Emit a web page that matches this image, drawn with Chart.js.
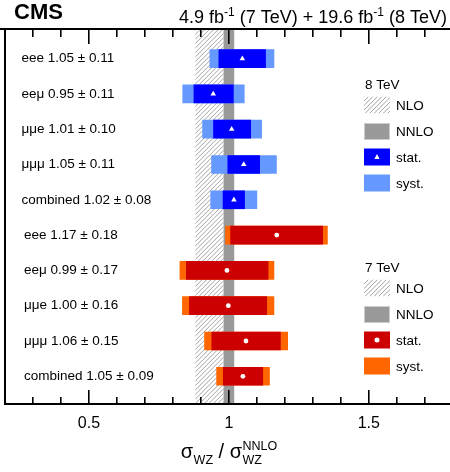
<!DOCTYPE html>
<html lang="en">
<head>
<meta charset="UTF-8">
<title>WZ cross section over NNLO</title>
<script src="https://cdn.jsdelivr.net/npm/chart.js"></script>
<style>
  html, body { margin: 0; padding: 0; background: #fff; overflow: hidden; }
  #chart { display: block; }
</style>
</head>
<body>
<canvas id="chart" width="450" height="472"></canvas>
<script>
// 8 TeV channels (top block)
const labels8 = ['eee 1.05 \u00b1 0.11', 'ee\u03bc 0.95 \u00b1 0.11', '\u03bc\u03bce 1.01 \u00b1 0.10', '\u03bc\u03bc\u03bc 1.05 \u00b1 0.11', 'combined 1.02 \u00b1 0.08'];
const central8 = [1.048, 0.944, 1.010, 1.053, 1.018];
const statLo8  = [0.964, 0.875, 0.945, 0.996, 0.979];
const statHi8  = [1.131, 1.016, 1.078, 1.110, 1.056];
const totLo8   = [0.932, 0.835, 0.906, 0.938, 0.935];
const totHi8   = [1.161, 1.055, 1.117, 1.170, 1.100];

// 7 TeV channels (bottom block)
const labels7 = ['eee 1.17 \u00b1 0.18', 'ee\u03bc 0.99 \u00b1 0.17', '\u03bc\u03bce 1.00 \u00b1 0.16', '\u03bc\u03bc\u03bc 1.06 \u00b1 0.15', 'combined 1.05 \u00b1 0.09'];
const central7 = [1.171, 0.993, 0.998, 1.061, 1.050];
const statLo7  = [1.006, 0.848, 0.859, 0.939, 0.980];
const statHi7  = [1.335, 1.140, 1.135, 1.184, 1.121];
const totLo7   = [0.988, 0.825, 0.834, 0.913, 0.956];
const totHi7   = [1.352, 1.161, 1.161, 1.210, 1.145];

// theory bands
const nloBand  = [0.88, 0.981];
const nnloBand = [0.981, 1.019];

const tickVals  = [0.3, 0.4, 0.5, 0.6, 0.7, 0.8, 0.9, 1.0, 1.1, 1.2, 1.3, 1.4, 1.5, 1.6, 1.7];
const majorVals = [0.5, 1.0, 1.5];

const FONT = "'Liberation Sans', Arial, Helvetica, sans-serif";
const C = { stat8: '#0000ff', syst8: '#6699ff', stat7: '#cc0000', syst7: '#ff6600', nnlo: '#999999' };

const rows8 = labels8.map((_, i) => i);
const rows7 = labels7.map((_, i) => i + labels8.length);

const isMajor = v => majorVals.some(m => Math.abs(m - v) < 1e-6);

function hatch(ctx, x0, y0, w, h) {
  ctx.save();
  ctx.beginPath();
  ctx.rect(x0, y0, w, h);
  ctx.clip();
  ctx.strokeStyle = '#8c8c8c';
  ctx.lineWidth = 0.8;
  ctx.beginPath();
  for (let t = -h; t < w + h; t += 4.5) {
    ctx.moveTo(x0 + t, y0 + h);
    ctx.lineTo(x0 + t + h, y0);
  }
  ctx.stroke();
  ctx.beginPath();
  ctx.restore();
}

function drawLegend(ctx, title, y, stat, syst, marker) {
  const sx = 364, sw = 26, sh = 17, tx = 396;
  ctx.save();
  ctx.fillStyle = '#000';
  ctx.font = '13.5px ' + FONT;
  ctx.textAlign = 'left';
  ctx.textBaseline = 'middle';
  ctx.fillText(title, 365, y);
  const rows = [y + 20, y + 46.5, y + 72, y + 98];
  hatch(ctx, sx, rows[0] - sh / 2, sw, sh);
  ctx.fillStyle = C.nnlo;
  ctx.fillRect(sx, rows[1] - sh / 2, sw, sh);
  ctx.fillStyle = '#cccccc';
  ctx.fillRect(sx, rows[1] - sh / 2, sw, 1);
  ctx.fillRect(sx, rows[1] + sh / 2 - 1, sw, 1);
  ctx.fillRect(sx, rows[1] - sh / 2, 1, sh);
  ctx.fillRect(sx + sw - 1, rows[1] - sh / 2, 1, sh);
  ctx.fillStyle = stat;
  ctx.fillRect(sx, rows[2] - sh / 2, sw, sh);
  ctx.fillStyle = '#fff';
  ctx.beginPath();
  if (marker === 'triangle') {
    ctx.moveTo(sx + sw / 2, rows[2] - 3);
    ctx.lineTo(sx + sw / 2 + 2.6, rows[2] + 2);
    ctx.lineTo(sx + sw / 2 - 2.6, rows[2] + 2);
    ctx.closePath();
  } else {
    ctx.arc(sx + sw / 2, rows[2], 2.5, 0, Math.PI * 2);
  }
  ctx.fill();
  ctx.beginPath();
  ctx.fillStyle = syst;
  ctx.fillRect(sx, rows[3] - sh / 2, sw, sh);
  ctx.fillStyle = '#000';
  ['NLO', 'NNLO', 'stat.', 'syst.'].forEach((t, i) => ctx.fillText(t, tx, rows[i] + 1));
  ctx.restore();
}

// theory bands behind the bars
const bands = {
  id: 'bands',
  beforeDatasetsDraw(chart) {
    const { ctx, chartArea: a, scales: { x } } = chart;
    ctx.save();
    const h0 = x.getPixelForValue(nloBand[0]), h1 = x.getPixelForValue(nloBand[1]);
    hatch(ctx, h0, a.top, h1 - h0, a.bottom - a.top);
    const n0 = x.getPixelForValue(nnloBand[0]), n1 = x.getPixelForValue(nnloBand[1]);
    ctx.fillStyle = C.nnlo;
    ctx.fillRect(n0, a.top, n1 - n0, a.bottom - a.top);
    ctx.restore();
  }
};

// texts, legend, frame and inward ticks on top
const decor = {
  id: 'decor',
  afterDraw(chart) {
    const { ctx, chartArea: a, scales: { x, y } } = chart;
    ctx.save();
    ctx.fillStyle = '#000';
    // row labels
    ctx.font = '13.5px ' + FONT;
    ctx.textAlign = 'left';
    ctx.textBaseline = 'middle';
    labels8.forEach((t, i) => ctx.fillText(t, 21.5, y.getPixelForValue(rows8[i])));
    labels7.forEach((t, i) => ctx.fillText(t, 24, y.getPixelForValue(rows7[i])));
    // legends
    drawLegend(ctx, '8 TeV', 85, C.stat8, C.syst8, 'triangle');
    drawLegend(ctx, '7 TeV', 268, C.stat7, C.syst7, 'circle');
    // header
    ctx.fillStyle = '#000';
    ctx.textBaseline = 'alphabetic';
    ctx.font = 'bold 22px ' + FONT;
    ctx.fillText('CMS', 14, 19);
    const parts = [
      ['4.9 fb', 18, 0], ['-1', 12, -7], [' (7 TeV) + 19.6 fb', 18, 0], ['-1', 12, -7], [' (8 TeV)', 18, 0]
    ];
    let w = 0;
    parts.forEach(p => { ctx.font = p[1] + 'px ' + FONT; w += ctx.measureText(p[0]).width; });
    let cx = 447 - w;
    parts.forEach(p => {
      ctx.font = p[1] + 'px ' + FONT;
      ctx.fillText(p[0], cx, 23 + p[2]);
      cx += ctx.measureText(p[0]).width;
    });
    // x title: sigma_WZ / sigma_WZ^NNLO
    const big = '20px ' + FONT, small = '12.5px ' + FONT;
    ctx.font = big; const wSig = ctx.measureText('\u03c3').width, wSl = ctx.measureText(' / ').width;
    ctx.font = small; const wWZ = ctx.measureText('WZ').width, wN = ctx.measureText('NNLO').width;
    const total = wSig * 2 + wWZ + wSl + Math.max(wWZ, wN) + 1;
    let tx = 229 - total / 2;
    const base = 458;
    ctx.font = big; ctx.fillText('\u03c3', tx, base); tx += wSig + 0.5;
    ctx.font = small; ctx.fillText('WZ', tx, base + 6); tx += wWZ;
    ctx.font = big; ctx.fillText(' / ', tx, base); tx += wSl;
    ctx.fillText('\u03c3', tx, base); tx += wSig + 0.5;
    ctx.font = small; ctx.fillText('WZ', tx, base + 6); ctx.fillText('NNLO', tx, base - 8);
    ctx.restore();

    ctx.save();
    ctx.fillStyle = '#000';
    // frame: top rule across the full width, left and bottom axis lines
    ctx.fillRect(0, a.top - 2, chart.width, 2);
    ctx.fillRect(a.left - 1, a.top - 1, 2, a.bottom - a.top + 2);
    ctx.fillRect(a.left - 1, a.bottom - 1, chart.width - a.left + 1, 2);
    // inward ticks, top and bottom
    for (const v of tickVals) {
      const px = Math.round(x.getPixelForValue(v));
      const len = isMajor(v) ? 14 : 7;
      ctx.fillRect(px - 1, a.bottom - len, 1.6, len);
      ctx.fillRect(px - 1, a.top, 1.6, len);
    }
    ctx.restore();
  }
};

const barOpts = { grouped: false, barThickness: 18, borderWidth: 0, borderSkipped: false };
const markOpts = { type: 'scatter', backgroundColor: '#fff', borderWidth: 0, pointHoverRadius: 0, clip: false, order: 0 };

new Chart(document.getElementById('chart'), {
  type: 'bar',
  data: {
    datasets: [
      { ...markOpts, label: 'central 8 TeV', data: central8.map((v, i) => ({ x: v, y: rows8[i] })), pointStyle: 'triangle', pointRadius: 3.2 },
      { ...markOpts, label: 'central 7 TeV', data: central7.map((v, i) => ({ x: v, y: rows7[i] })), pointStyle: 'circle', pointRadius: 2.4 },
      { ...barOpts, label: 'stat. 8 TeV', data: statLo8.map((lo, i) => ({ x: [lo, statHi8[i]], y: rows8[i] })), backgroundColor: C.stat8, order: 1 },
      { ...barOpts, label: 'stat. 7 TeV', data: statLo7.map((lo, i) => ({ x: [lo, statHi7[i]], y: rows7[i] })), backgroundColor: C.stat7, order: 1 },
      { ...barOpts, label: 'syst. 8 TeV', data: totLo8.map((lo, i) => ({ x: [lo, totHi8[i]], y: rows8[i] })), backgroundColor: C.syst8, order: 2 },
      { ...barOpts, label: 'syst. 7 TeV', data: totLo7.map((lo, i) => ({ x: [lo, totHi7[i]], y: rows7[i] })), backgroundColor: C.syst7, order: 2 }
    ]
  },
  options: {
    indexAxis: 'y',
    responsive: false,
    animation: false,
    devicePixelRatio: 1,
    layout: { autoPadding: false, padding: { left: 5, top: 30, right: 0, bottom: 0 } },
    plugins: { legend: { display: false }, tooltip: { enabled: false } },
    scales: {
      x: {
        type: 'linear',
        offset: false,
        min: 0.2,
        max: 1.79,
        grid: { display: false, drawTicks: false },
        border: { display: false },
        afterBuildTicks: s => { s.ticks = tickVals.map(v => ({ value: v })); },
        afterFit: s => { s.height = 68; },
        ticks: {
          autoSkip: false,
          maxRotation: 0,
          padding: 10,
          color: '#000',
          font: { family: FONT, size: 16 },
          callback: v => isMajor(v) ? String(+v.toFixed(1)) : ''
        }
      },
      y: {
        type: 'linear',
        offset: false,
        min: -0.81,
        max: 9.785,
        reverse: true,
        display: false
      }
    }
  },
  plugins: [bands, decor]
});
</script>
</body>
</html>
